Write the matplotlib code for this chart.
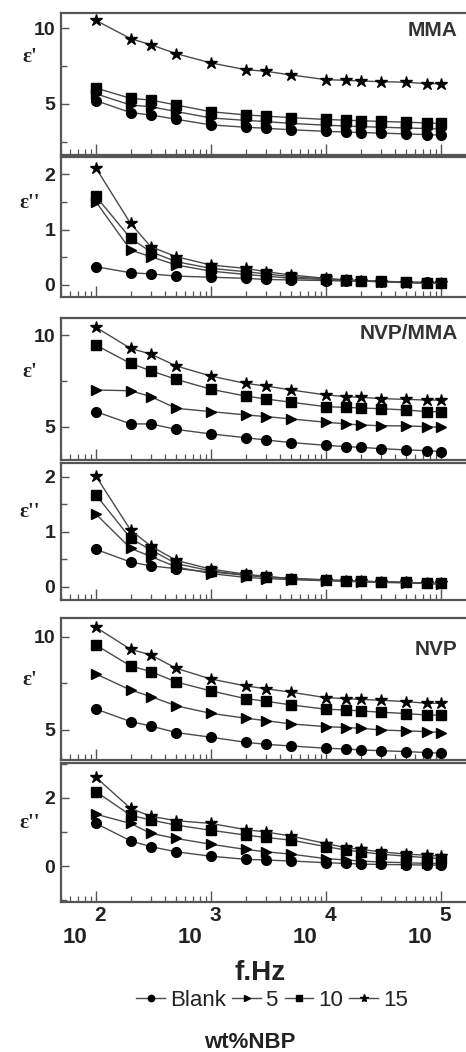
import matplotlib
matplotlib.use('Agg')
import matplotlib.pyplot as plt
import matplotlib.transforms as mtransforms
from matplotlib.ticker import MultipleLocator, LogLocator, NullFormatter, FuncFormatter
from matplotlib.lines import Line2D

plt.rcParams['font.family'] = ['Liberation Sans', 'DejaVu Sans']
plt.rcParams['font.weight'] = 'bold'

# ---------------- data ----------------
freq = [100, 200, 300, 500, 1000, 2000, 3000, 5000, 10000, 15000, 20000, 30000, 50000, 75000, 100000]
series_labels = ['Blank', '5', '10', '15']
panel_names = ['MMA', 'NVP/MMA', 'NVP']

# MMA
mma_eps1_blank = [5.22, 4.43, 4.28, 3.99, 3.62, 3.47, 3.40, 3.30, 3.20, 3.15, 3.12, 3.08, 3.03, 2.98, 2.95]
mma_eps1_5 = [5.67, 4.93, 4.82, 4.50, 4.08, 3.92, 3.84, 3.72, 3.60, 3.55, 3.51, 3.47, 3.42, 3.38, 3.35]
mma_eps1_10 = [6.05, 5.37, 5.26, 4.93, 4.49, 4.28, 4.20, 4.10, 3.98, 3.93, 3.90, 3.85, 3.80, 3.75, 3.72]
mma_eps1_15 = [10.50, 9.30, 8.90, 8.31, 7.70, 7.26, 7.15, 6.91, 6.60, 6.56, 6.51, 6.47, 6.43, 6.34, 6.34]

mma_eps2_blank = [0.33, 0.22, 0.20, 0.16, 0.14, 0.12, 0.10, 0.09, 0.08, 0.07, 0.07, 0.06, 0.05, 0.05, 0.04]
mma_eps2_5 = [1.50, 0.63, 0.51, 0.36, 0.25, 0.19, 0.16, 0.12, 0.10, 0.08, 0.07, 0.06, 0.05, 0.04, 0.04]
mma_eps2_10 = [1.60, 0.84, 0.60, 0.42, 0.30, 0.24, 0.20, 0.15, 0.11, 0.09, 0.08, 0.07, 0.05, 0.04, 0.04]
mma_eps2_15 = [2.11, 1.11, 0.69, 0.51, 0.36, 0.30, 0.24, 0.18, 0.12, 0.09, 0.08, 0.06, 0.04, 0.03, 0.03]

# NVP/MMA
nm_eps1_blank = [5.82, 5.15, 5.15, 4.85, 4.60, 4.40, 4.27, 4.13, 3.98, 3.91, 3.87, 3.80, 3.73, 3.69, 3.64]
nm_eps1_5 = [7.00, 6.96, 6.64, 6.00, 5.82, 5.64, 5.55, 5.42, 5.24, 5.15, 5.09, 5.05, 5.04, 5.00, 4.96]
nm_eps1_10 = [9.45, 8.45, 8.05, 7.58, 7.04, 6.67, 6.51, 6.33, 6.09, 6.05, 6.02, 5.98, 5.91, 5.82, 5.82]
nm_eps1_15 = [10.42, 9.27, 8.96, 8.31, 7.76, 7.36, 7.22, 7.00, 6.73, 6.64, 6.60, 6.53, 6.49, 6.45, 6.45]

nm_eps2_blank = [0.68, 0.45, 0.38, 0.33, 0.27, 0.21, 0.18, 0.15, 0.13, 0.11, 0.10, 0.09, 0.08, 0.07, 0.06]
nm_eps2_5 = [1.32, 0.70, 0.55, 0.36, 0.24, 0.17, 0.15, 0.13, 0.11, 0.10, 0.09, 0.08, 0.07, 0.06, 0.05]
nm_eps2_10 = [1.67, 0.88, 0.67, 0.42, 0.29, 0.21, 0.18, 0.14, 0.12, 0.11, 0.10, 0.09, 0.08, 0.06, 0.06]
nm_eps2_15 = [2.01, 1.03, 0.74, 0.48, 0.32, 0.23, 0.19, 0.15, 0.12, 0.11, 0.10, 0.09, 0.08, 0.06, 0.06]

# NVP
n_eps1_blank = [6.12, 5.45, 5.21, 4.86, 4.61, 4.34, 4.23, 4.14, 4.02, 3.98, 3.93, 3.89, 3.84, 3.79, 3.75]
n_eps1_5 = [8.00, 7.14, 6.79, 6.29, 5.89, 5.63, 5.50, 5.32, 5.18, 5.13, 5.09, 5.00, 4.95, 4.91, 4.86]
n_eps1_10 = [9.55, 8.43, 8.13, 7.57, 7.09, 6.68, 6.54, 6.34, 6.11, 6.07, 6.02, 5.95, 5.88, 5.80, 5.79]
n_eps1_15 = [10.50, 9.32, 9.02, 8.30, 7.73, 7.36, 7.21, 7.02, 6.73, 6.68, 6.64, 6.59, 6.52, 6.43, 6.43]

n_eps2_blank = [1.25, 0.74, 0.57, 0.42, 0.29, 0.20, 0.18, 0.15, 0.10, 0.08, 0.06, 0.05, 0.04, 0.03, 0.03]
n_eps2_5 = [1.52, 1.25, 0.96, 0.81, 0.64, 0.49, 0.42, 0.35, 0.22, 0.18, 0.15, 0.12, 0.10, 0.08, 0.08]
n_eps2_10 = [2.18, 1.49, 1.35, 1.20, 1.05, 0.91, 0.84, 0.76, 0.57, 0.47, 0.42, 0.35, 0.29, 0.25, 0.22]
n_eps2_15 = [2.60, 1.69, 1.46, 1.33, 1.25, 1.07, 1.00, 0.88, 0.66, 0.54, 0.49, 0.42, 0.35, 0.32, 0.29]

panels = [
    ([mma_eps1_blank, mma_eps1_5, mma_eps1_10, mma_eps1_15], "ε'"),
    ([mma_eps2_blank, mma_eps2_5, mma_eps2_10, mma_eps2_15], "ε''"),
    ([nm_eps1_blank, nm_eps1_5, nm_eps1_10, nm_eps1_15], "ε'"),
    ([nm_eps2_blank, nm_eps2_5, nm_eps2_10, nm_eps2_15], "ε''"),
    ([n_eps1_blank, n_eps1_5, n_eps1_10, n_eps1_15], "ε'"),
    ([n_eps2_blank, n_eps2_5, n_eps2_10, n_eps2_15], "ε''"),
]

# ---------------- layout / style ----------------
W, H = 466, 1052
fig = plt.figure(figsize=(W / 100, H / 100), dpi=100)

left_px, right_px = 61, 468
boxes_px = [(13, 155), (157, 297), (318, 460), (463, 600), (618, 760), (763, 902)]
ylims = [(1.64, 10.99), (-0.217, 2.31), (3.18, 10.93), (-0.24, 2.25), (3.39, 11.0), (-1.05, 3.02)]
ymaj = [5, 1, 5, 1, 5, 2]
ymin = [2.5, 0.5, 2.5, 0.5, 2.5, 1]
ylab_y = [0.62, 0.60, 0.55, 0.57, 0.49, 0.50]
name_pos = {0: 0.88, 2: 0.894, 4: 0.775}
xlim = (10 ** 1.696, 10 ** 5.235)

markers = ['o', '>', 's', '*']
msizes = [7, 7.5, 7, 9]
line_color = '#4a4a4a'
spine_color = '#555555'
text_color = '#222222'

axes = []
for i, (top, bot) in enumerate(boxes_px):
    ax = fig.add_axes([left_px / W, 1 - bot / H, (right_px - left_px) / W, (bot - top) / H])
    axes.append(ax)
    data, ylab = panels[i]
    for vals, m, ms, lab in zip(data, markers, msizes, series_labels):
        ax.plot(freq, vals, color=line_color, lw=1.0, marker=m, ms=ms,
                mfc='black', mec='black', label=lab, zorder=3)
    ax.set_xscale('log')
    ax.set_xlim(*xlim)
    ax.set_ylim(*ylims[i])
    ax.yaxis.set_major_locator(MultipleLocator(ymaj[i]))
    ax.yaxis.set_minor_locator(MultipleLocator(ymin[i]))
    ax.xaxis.set_major_locator(LogLocator(base=10, numticks=10))
    ax.xaxis.set_minor_locator(LogLocator(base=10, subs=range(2, 10), numticks=50))
    ax.xaxis.set_minor_formatter(NullFormatter())
    for s in ax.spines.values():
        s.set_color(spine_color)
        s.set_linewidth(1.6)
    ax.tick_params(axis='both', which='both', direction='in', color=spine_color,
                   top=False, right=False)
    ax.tick_params(axis='x', which='major', length=8, width=1.0)
    ax.tick_params(axis='x', which='minor', length=4, width=0.9)
    ax.tick_params(axis='y', which='major', length=6, width=1.0, labelsize=14,
                   pad=4, labelcolor=text_color)
    ax.tick_params(axis='y', which='minor', length=4, width=1.0)
    ax.set_ylabel(ylab, rotation=0, fontsize=15, family='Liberation Serif',
                  fontweight='bold', color=text_color)
    ax.yaxis.set_label_coords(-0.077, ylab_y[i])
    if i in name_pos:
        ax.text(0.975, name_pos[i], panel_names[i // 2], transform=ax.transAxes,
                ha='right', va='center', fontsize=15, fontweight='bold', color='#333333')
    if i < 5:
        ax.tick_params(axis='x', labelbottom=False)

# bottom axis labels: "10" with separate exponent
axb = axes[-1]
axb.xaxis.set_major_formatter(FuncFormatter(lambda v, p: '10'))
axb.tick_params(axis='x', which='major', labelsize=16, pad=18, labelcolor=text_color)
shift = mtransforms.ScaledTranslation(-21 / 100, 0, fig.dpi_scale_trans)
for lbl in axb.get_xticklabels():
    lbl.set_transform(lbl.get_transform() + shift)
exp_tr = axb.get_xaxis_transform() + mtransforms.ScaledTranslation(4 / 100, 0, fig.dpi_scale_trans)
for k in range(2, 6):
    axb.text(10 ** k, -0.095, str(k), transform=exp_tr, ha='center', va='center',
             fontsize=15, fontweight='bold', color=text_color, clip_on=False)

fig.text(260 / W, 1 - 973 / H, 'f.Hz', ha='center', va='center', fontsize=20,
         fontweight='bold', color=text_color)

handles = [Line2D([], [], color=line_color, lw=1.0, marker=m, ms=ms * 0.65,
                  mfc='black', mec='black') for m, ms in zip(markers, msizes)]
leg = fig.legend(handles, series_labels, loc='center', bbox_to_anchor=(272 / W, 1 - 1000 / H),
                 ncol=4, frameon=False, handlelength=1.3, handletextpad=0.2,
                 columnspacing=0.3, borderpad=0, prop={'weight': 'normal', 'size': 16})
for t in leg.get_texts():
    t.set_color(text_color)

fig.text(250 / W, 1 - 1043 / H, 'wt%NBP', ha='center', va='center', fontsize=16,
         fontweight='bold', color=text_color)

fig.savefig('out.png', dpi=100)
